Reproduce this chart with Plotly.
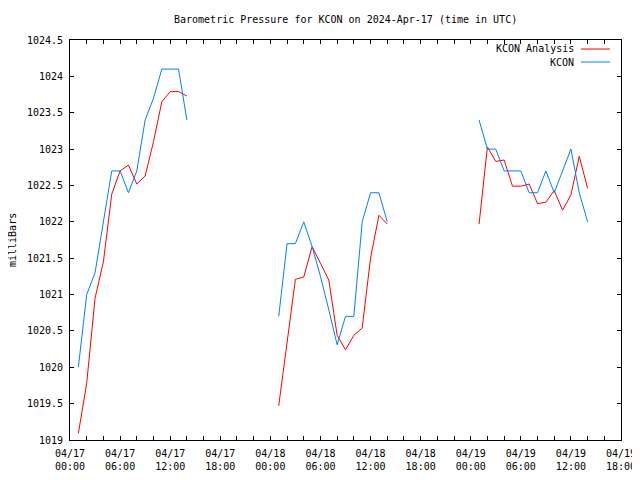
import plotly.graph_objects as go

# Hours since 2024-04-17 00:00 UTC
hours = [1, 2, 3, 4, 5, 6, 7, 8, 9, 10, 11, 12, 13, 14, None,
         25, 26, 27, 28, 29, 30, 31, 32, 33, 34, 35, 36, 37, 38, None,
         49, 50, 51, 52, 53, 54, 55, 56, 57, 58, 59, 60, 61, 62]

analysis = [1019.09, 1019.78, 1020.95, 1021.45, 1022.38, 1022.70, 1022.78, 1022.52, 1022.63, 1023.10, 1023.65, 1023.79, 1023.79, 1023.73, None,
            1019.47, 1020.37, 1021.21, 1021.24, 1021.66, 1021.43, 1021.20, 1020.44, 1020.24, 1020.44, 1020.54, 1021.50, 1022.09, 1021.97, None,
            1021.97, 1023.03, 1022.83, 1022.85, 1022.49, 1022.49, 1022.52, 1022.25, 1022.27, 1022.43, 1022.16, 1022.37, 1022.90, 1022.46]

observed = [1020.0, 1021.0, 1021.3, 1022.0, 1022.7, 1022.7, 1022.4, 1022.7, 1023.4, 1023.7, 1024.1, 1024.1, 1024.1, 1023.4, None,
            1020.7, 1021.7, 1021.7, 1022.0, 1021.66, 1021.25, 1020.79, 1020.31, 1020.7, 1020.7, 1022.0, 1022.4, 1022.4, 1022.0, None,
            1023.4, 1023.0, 1023.0, 1022.7, 1022.7, 1022.7, 1022.4, 1022.4, 1022.7, 1022.4, 1022.7, 1023.0, 1022.4, 1022.0]

x_major = [0, 6, 12, 18, 24, 30, 36, 42, 48, 54, 60, 66]
x_labels = ["04/17<br>00:00", "04/17<br>06:00", "04/17<br>12:00", "04/17<br>18:00",
            "04/18<br>00:00", "04/18<br>06:00", "04/18<br>12:00", "04/18<br>18:00",
            "04/19<br>00:00", "04/19<br>06:00", "04/19<br>12:00", "04/19<br>18:00"]
y_ticks = [1019, 1019.5, 1020, 1020.5, 1021, 1021.5, 1022, 1022.5, 1023, 1023.5, 1024, 1024.5]
y_labels = ["1019", "1019.5", "1020", "1020.5", "1021", "1021.5", "1022", "1022.5", "1023", "1023.5", "1024", "1024.5"]

RED = "#ff0000"
BLUE = "#0080ff"
FONT = "DejaVu Sans Mono"

# all 2-hourly tick positions, labels only on 6-hourly ones
tickvals = list(range(0, 67, 2))
label_map = dict(zip(x_major, x_labels))
ticktext = [label_map.get(v, "") for v in tickvals]

fig = go.Figure()
fig.add_trace(go.Scatter(x=hours, y=analysis, mode="lines", name="KCON Analysis",
                         line=dict(color=RED, width=1), connectgaps=False, showlegend=False))
fig.add_trace(go.Scatter(x=hours, y=observed, mode="lines", name="KCON",
                         line=dict(color=BLUE, width=1), connectgaps=False, showlegend=False))

# page body has an 8px margin: figure sits at (8,8) in the 640x480 window
fig.update_layout(
    width=632, height=472,
    margin=dict(l=62, r=19, t=32, b=40, autoexpand=False),
    paper_bgcolor="white", plot_bgcolor="white",
    font=dict(family=FONT, size=10, color="black"),
    showlegend=False,
)
fig.update_xaxes(range=[0, 66], tickvals=tickvals, ticktext=ticktext, automargin=False,
                 ticks="inside", ticklen=4, tickcolor="black", tickwidth=1,
                 showline=True, linecolor="black", linewidth=1, mirror="allticks",
                 showgrid=False, zeroline=False, tickangle=0, ticklabelstandoff=4,
                 tickfont=dict(family=FONT, size=10, color="black"))
fig.update_yaxes(range=[1019, 1024.5], tickvals=y_ticks, ticktext=y_labels, automargin=False,
                 ticks="inside", ticklen=4, tickcolor="black", tickwidth=1,
                 showline=True, linecolor="black", linewidth=1, mirror="allticks",
                 showgrid=False, zeroline=False, ticklabelstandoff=4,
                 tickfont=dict(family=FONT, size=10, color="black"))

PW = 551  # plot width in px

# title
fig.add_annotation(text="Barometric Pressure for KCON on 2024-Apr-17 (time in UTC)",
                   xref="paper", yref="paper", x=0.5, y=1 + (40 - 19) / 400,
                   xanchor="center", yanchor="middle", showarrow=False,
                   font=dict(family=FONT, size=10))

# y-axis label
fig.add_annotation(text="milliBars", xref="paper", yref="paper",
                   x=(12 - 70) / PW, y=0.5, textangle=-90, showarrow=False,
                   xanchor="center", yanchor="middle", font=dict(family=FONT, size=10))

# gnuplot-style legend: text right-aligned, line sample to the right
legend_items = [("KCON Analysis", RED, 49), ("KCON", BLUE, 62)]
for label, color, py in legend_items:
    yp = (440 - py) / 400
    fig.add_annotation(text=label, xref="paper", yref="paper",
                       x=(576 - 70) / PW, y=yp, xanchor="right", yanchor="middle",
                       showarrow=False, font=dict(family=FONT, size=10))
    fig.add_shape(type="line", xref="paper", yref="paper",
                  x0=(581 - 70) / PW, x1=(610 - 70) / PW, y0=yp, y1=yp,
                  line=dict(color=color, width=1))

fig.write_html("out.html")
